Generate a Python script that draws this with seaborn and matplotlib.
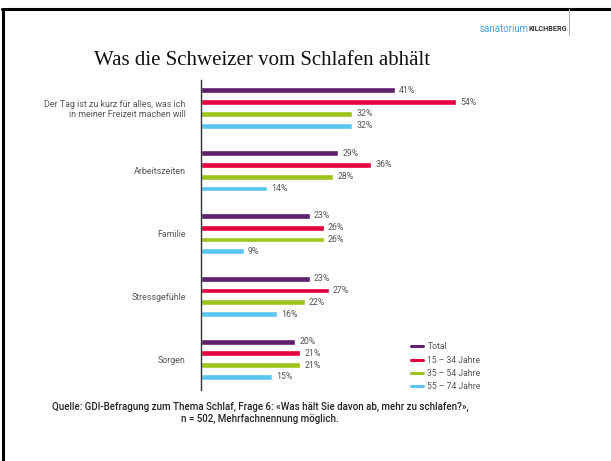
import matplotlib
matplotlib.use("Agg")
import matplotlib.pyplot as plt
from matplotlib.lines import Line2D
import pandas as pd
import seaborn as sns

# data
categories = ["Der Tag ist zu kurz für alles, was ich\nin meiner Freizeit machen will",
              "Arbeitszeiten", "Familie", "Stressgefühle", "Sorgen"]
groups = ["Total", "15 – 34 Jahre", "35 – 54 Jahre", "55 – 74 Jahre"]
total = [41, 29, 23, 23, 20]
age_15_34 = [54, 36, 26, 27, 21]
age_35_54 = [32, 28, 26, 22, 21]
age_55_74 = [32, 14, 9, 16, 15]
colors = ["#5e1f6b", "#e4003f", "#9dc41a", "#5bc5f2"]

rows = []
for g, vals in zip(groups, [total, age_15_34, age_35_54, age_55_74]):
    for c, v in zip(categories, vals):
        rows.append({"Kategorie": c, "Gruppe": g, "Wert": v})
df = pd.DataFrame(rows)

sns.set_style("white")
plt.rcParams["font.family"] = ["Roboto", "DejaVu Sans"]

fig = plt.figure(figsize=(6.11, 4.61), dpi=100)
ax = fig.add_axes([0.329, 0.154, 0.5875, 0.6725])

sns.barplot(data=df, y="Kategorie", x="Wert", hue="Gruppe", orient="h",
            palette=colors, saturation=1, width=0.75, gap=0.5, ax=ax, legend=False)

for cont in ax.containers:
    ax.bar_label(cont, labels=[f"{int(v)}%" for v in cont.datavalues],
                 padding=3, fontsize=6.3, color="#555555")

ax.set_xlim(0, 76)
ax.set_ylim(4.49, -0.446)
ax.set_xlabel("")
ax.set_ylabel("")
ax.set_xticks([])
ax.tick_params(axis="y", length=0, pad=11, labelsize=6.4, labelcolor="#555555")
for lbl in ax.get_yticklabels():
    lbl.set_multialignment("right")
for s in ["top", "right", "bottom"]:
    ax.spines[s].set_visible(False)
ax.spines["left"].set_color("#333333")
ax.spines["left"].set_linewidth(1.0)

handles = [Line2D([0], [0], color=c, lw=2.2) for c in colors]
fig.legend(handles, groups, loc="upper left", bbox_to_anchor=(0.66, 0.274),
           frameon=False, fontsize=6.2, handlelength=1.4, handletextpad=0.5,
           labelspacing=0.5, labelcolor="#555555")

fig.text(0.429, 0.868, "Was die Schweizer vom Schlafen abhält",
         family="Liberation Serif", fontsize=15, ha="center", va="center",
         color="#111111")

fig.text(0.426, 0.104,
         "Quelle: GDI-Befragung zum Thema Schlaf, Frage 6: «Was hält Sie davon ab, mehr zu schlafen?»,\n"
         "n = 502, Mehrfachnennung möglich.",
         ha="center", va="center", fontsize=7, color="#222222",
         fontweight="medium", linespacing=1.25)

# logo
k = fig.text(0.928, 0.937, "KILCHBERG", ha="right", va="center",
             fontsize=5.2, fontweight="bold", color="#333333")
fig.canvas.draw()
bb = k.get_window_extent()
fig.text(bb.x0 / fig.bbox.width, 0.937, "sanatorium", ha="right", va="center",
         fontsize=7, color="#4a9fd8")

# frame
fig.add_artist(Line2D([0.003, 1.0], [0.9805, 0.9805], color="black", lw=2.2))
fig.add_artist(Line2D([0.005, 0.005], [0.0, 0.9805], color="black", lw=2.2))
fig.add_artist(Line2D([0.931, 0.931], [0.9805, 0.924], color="#aaaaaa", lw=0.7))

fig.savefig("out.png", dpi=100)
